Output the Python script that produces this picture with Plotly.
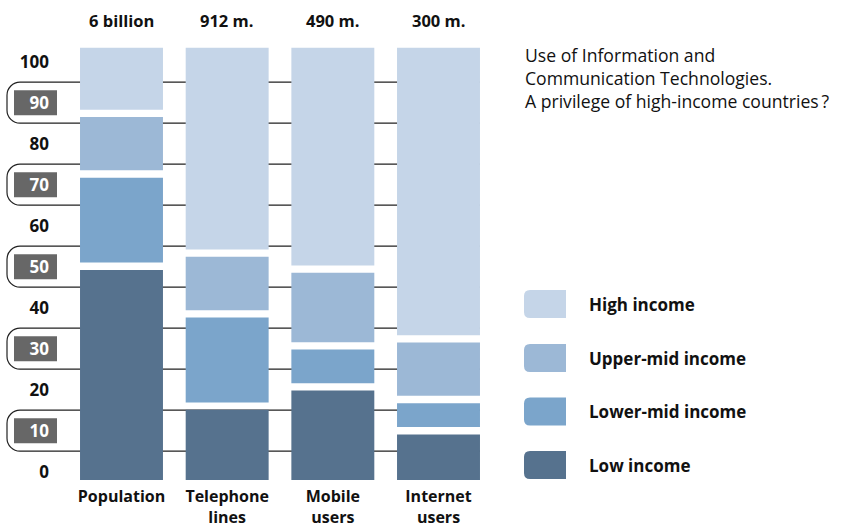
import plotly.graph_objects as go

# ---------------- data ----------------
categories = ["Population", "Telephone<br>lines", "Mobile<br>users", "Internet<br>users"]
totals = ["6 billion", "912 m.", "490 m.", "300 m."]
series_names = ["Low income", "Lower-mid income", "Upper-mid income", "High income"]
low_income = [51.2, 17.1, 21.8, 11.1]
lower_mid_income = [20.7, 20.7, 8.2, 5.8]
upper_mid_income = [13.0, 13.0, 16.9, 13.0]
high_income = [15.1, 49.2, 53.1, 70.1]
y_tick_values = [0, 10, 20, 30, 40, 50, 60, 70, 80, 90, 100]
y_tick_labels = ["0", "10", "20", "30", "40", "50", "60", "70", "80", "90", "100"]
boxed_ticks = [10, 30, 50, 70, 90]
title_lines = ["Use of Information and", "Communication Technologies.",
               "A privilege of high-income countries\u2009?"]

colors = ["#56728E", "#7BA5CB", "#9CB8D6", "#C5D5E8"]
series_values = [low_income, lower_mid_income, upper_mid_income, high_income]

# ---------------- geometry helpers ----------------
W, H = 841, 528
L, R, T, B = 50, 0, 33, 44
PW, PH = W - L - R, H - T - B
Y_MIN, Y_MAX = -3, 107
X_MIN = -0.6766
X_MAX = X_MIN + PW / 105.67
S = PH / (Y_MAX - Y_MIN)  # px per unit


def px_x(px):
    return (px - L) / PW


def px_y(py):
    return (H - B - py) / PH


BAR_BASE = -2.0
GAP = 1.8
BOLD = "Open Sans"
TXT = "#111111"
BSIZE = 17

fig = go.Figure()
cum = [BAR_BASE] * len(categories)
for name, vals, col in zip(series_names, series_values, colors):
    fig.add_trace(go.Bar(
        x=categories, y=vals, base=list(cum), name=name,
        marker=dict(color=col, line=dict(width=0)), width=0.785,
        showlegend=False, hoverinfo="skip"))
    cum = [c + v + GAP for c, v in zip(cum, vals)]

shapes = []
annotations = []

# bracket grid lines
x_left = px_x(7)
x_right = px_x(480)
rx = 13 / PW
ry = 13 / S
for v in boxed_ticks:
    top, bot = v + 5, v - 5
    path = (f"M {x_right},{top} L {x_left + rx},{top} "
            f"C {x_left + rx * 0.45},{top} {x_left},{top - ry * 0.45} {x_left},{top - ry} "
            f"L {x_left},{bot + ry} "
            f"C {x_left},{bot + ry * 0.45} {x_left + rx * 0.45},{bot} {x_left + rx},{bot} "
            f"L {x_right},{bot}")
    shapes.append(dict(type="path", path=path, xref="paper", yref="y",
                       line=dict(color="#222222", width=1.2), layer="below"))
    half = 12.5 / S
    shapes.append(dict(type="rect", xref="paper", yref="y",
                       x0=px_x(14), x1=px_x(57), y0=v - half, y1=v + half,
                       fillcolor="#676767", line=dict(width=0), layer="below"))

ticktext = []
for v, t in zip(y_tick_values, y_tick_labels):
    if v in boxed_ticks:
        ticktext.append(f"<span style='color:#ffffff'>{t}</span>")
    else:
        ticktext.append(t)

# totals above bars
for c, t in zip(categories, totals):
    annotations.append(dict(x=c, y=px_y(20), xref="x", yref="paper", text=t,
                            showarrow=False, yanchor="middle", xanchor="center",
                            font=dict(family=BOLD, size=16.5, color=TXT, weight=700)))

# title
annotations.append(dict(x=px_x(523), y=px_y(41), xref="paper", yref="paper",
                        text="<br>".join(title_lines), showarrow=False,
                        xanchor="left", yanchor="top", align="left",
                        font=dict(family="Open Sans", size=17.6, color="#111111")))

# custom legend (top to bottom: High ... Low)
leg_centers = [304, 358, 411.5, 465]
for name, col, cy in zip(series_names[::-1], colors[::-1], leg_centers):
    x0, x1 = 524, 566
    y0, y1 = cy - 14, cy + 14
    r = 6
    pts = (f"M {px_x(x1)},{px_y(y0)} L {px_x(x0 + r)},{px_y(y0)} "
           f"Q {px_x(x0)},{px_y(y0)} {px_x(x0)},{px_y(y0 + r)} "
           f"L {px_x(x0)},{px_y(y1 - r)} "
           f"Q {px_x(x0)},{px_y(y1)} {px_x(x0 + r)},{px_y(y1)} "
           f"L {px_x(x1)},{px_y(y1)} Z")
    shapes.append(dict(type="path", path=pts, xref="paper", yref="paper",
                       fillcolor=col, line=dict(width=0), layer="below"))
    annotations.append(dict(x=px_x(587), y=px_y(cy), xref="paper", yref="paper",
                            text=name, showarrow=False, xanchor="left", yanchor="middle",
                            font=dict(family=BOLD, size=BSIZE, color=TXT, weight=700)))

fig.update_layout(
    width=W, height=H,
    margin=dict(l=L, r=R, t=T, b=B, pad=0, autoexpand=False),
    paper_bgcolor="white", plot_bgcolor="rgba(0,0,0,0)",
    barmode="overlay", showlegend=False,
    shapes=shapes, annotations=annotations,
    xaxis=dict(range=[X_MIN, X_MAX], showgrid=False, zeroline=False, showline=False,
               ticks="", tickfont=dict(family=BOLD, size=16, color=TXT, weight=700),
               ticklabelstandoff=1, automargin=False, fixedrange=True),
    yaxis=dict(range=[Y_MIN, Y_MAX], tickvals=y_tick_values, ticktext=ticktext,
               showgrid=False, zeroline=False, showline=False, ticks="",
               tickfont=dict(family=BOLD, size=BSIZE, color=TXT, weight=700),
               automargin=False, fixedrange=True),
)

fig.write_html("out.html")
